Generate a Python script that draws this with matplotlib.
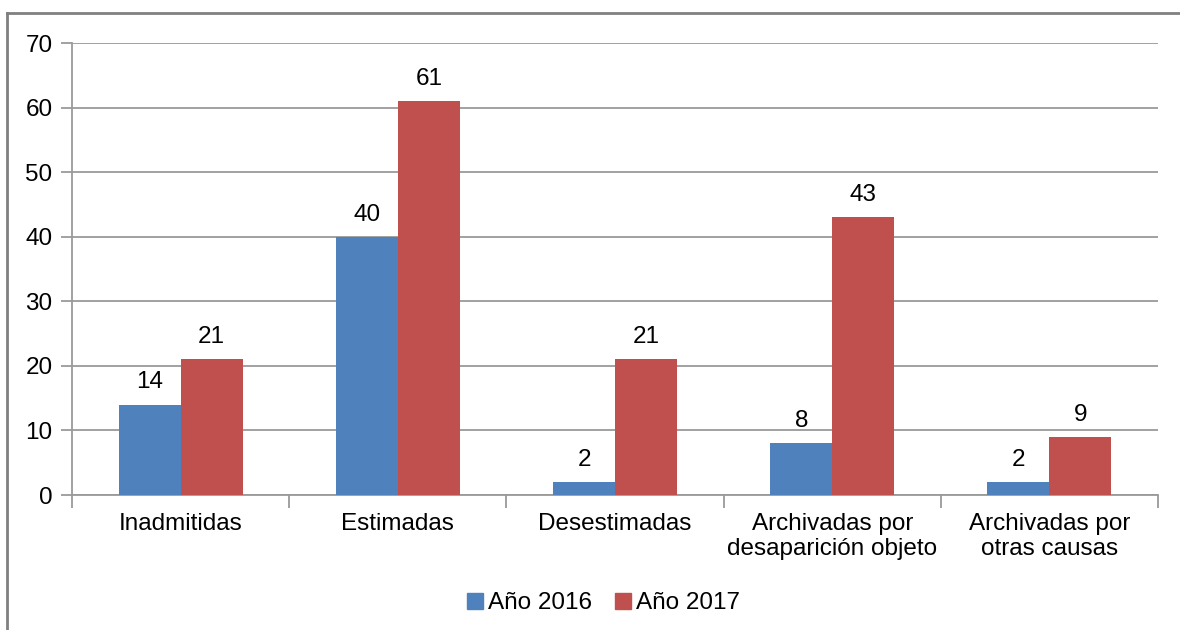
import matplotlib
matplotlib.use("Agg")
import matplotlib.pyplot as plt
from matplotlib.lines import Line2D
import numpy as np

categories = ["Inadmitidas", "Estimadas", "Desestimadas",
              "Archivadas por\ndesaparición objeto", "Archivadas por\notras causas"]
series_names = ["Año 2016", "Año 2017"]
values_2016 = [14, 40, 2, 8, 2]
values_2017 = [21, 61, 21, 43, 9]
yticks = [0, 10, 20, 30, 40, 50, 60, 70]

plt.rcParams['font.family'] = ['Liberation Sans', 'DejaVu Sans']
FS = 17.5
blue = "#4F81BD"
red = "#C0504D"
grid_c = "#9A9A9A"

fig = plt.figure(figsize=(11.8, 6.3), dpi=100)
W, H = 1180, 630
ax = fig.add_axes([72 / W, 1 - 495 / H, (1158 - 72) / W, (495 - 43) / H])

x = np.arange(len(categories))
bw = 0.285
b1 = ax.bar(x - bw / 2, values_2016, bw, color=blue, label=series_names[0], zorder=3)
b2 = ax.bar(x + bw / 2, values_2017, bw, color=red, label=series_names[1], zorder=3)

for bars, vals in ((b1, values_2016), (b2, values_2017)):
    for b, v in zip(bars, vals):
        ax.annotate(str(v), (b.get_x() + b.get_width() / 2, v), xytext=(0, 8),
                    textcoords="offset points", ha="center", va="bottom", fontsize=FS)

ax.set_xlim(-0.5, len(categories) - 0.5)
ax.set_ylim(0, 70)
ax.set_yticks(yticks)
ax.set_yticklabels([str(t) for t in yticks], fontsize=FS)
ax.yaxis.grid(True, color=grid_c, linewidth=1.3, zorder=0)
ax.set_axisbelow(True)

ax.set_xticks(x)
ax.set_xticklabels(categories, fontsize=FS, linespacing=1.15)
ax.tick_params(axis="x", length=0, pad=13)
ax.set_xticks(np.arange(-0.5, len(categories) + 0.5, 1), minor=True)
ax.tick_params(axis="x", which="minor", length=9, color=grid_c, width=1.3)
ax.tick_params(axis="y", length=8, color=grid_c, width=1.3, pad=6)

for s in ["top", "right"]:
    ax.spines[s].set_visible(False)
for s in ["left", "bottom"]:
    ax.spines[s].set_color(grid_c)
    ax.spines[s].set_linewidth(1.3)

handles = [Line2D([], [], marker="s", linestyle="none", markersize=11, color=blue),
           Line2D([], [], marker="s", linestyle="none", markersize=11, color=red)]
fig.legend(handles, series_names, loc="center", bbox_to_anchor=(602 / W, 1 - 603 / H),
           ncol=2, frameon=False, fontsize=FS, handletextpad=0.1, columnspacing=0.8,
           handlelength=0.9)

# outer frame (top and left visible)
fig.add_artist(Line2D([7 / W, 1.0], [1 - 13 / H, 1 - 13 / H], color="#808080", linewidth=2.0,
                      transform=fig.transFigure))
fig.add_artist(Line2D([7 / W, 7 / W], [0.0, 1 - 13 / H], color="#808080", linewidth=2.0,
                      transform=fig.transFigure))

fig.savefig("out.png", dpi=100)
